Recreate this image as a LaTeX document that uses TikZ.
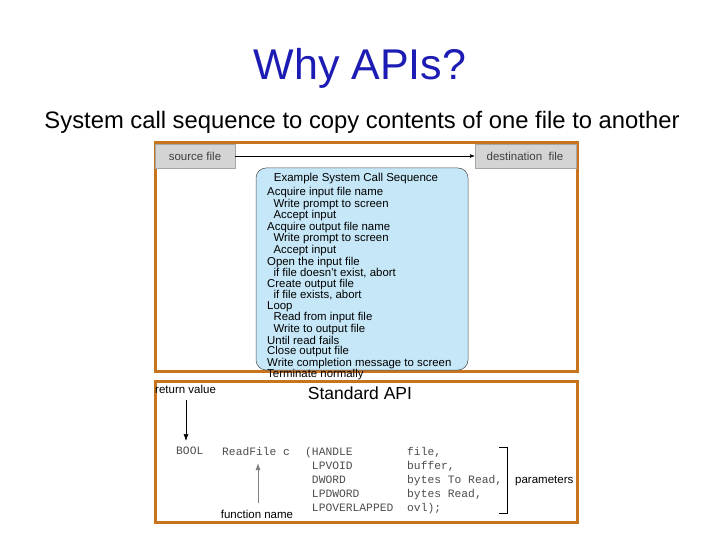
\documentclass[tikz,border=0pt]{standalone}
\usepackage{fontspec}
\setmainfont{Liberation Sans}
\setmonofont{Liberation Mono}
\usetikzlibrary{arrows.meta}
\definecolor{frame}{HTML}{C8741E}
\definecolor{tblue}{HTML}{1C1CB4}
\definecolor{lblue}{HTML}{C6E7F7}
\definecolor{gbox}{HTML}{D4D4D4}
\tikzset{
 frm/.style={draw=frame,line width=3pt},
 gb/.style={fill=gbox,draw=gray!70,line width=0.4pt},
 seq/.style={font=\fontsize{11.4}{10.4}\selectfont,anchor=north west,align=left,inner sep=0},
 lbl/.style={font=\fontsize{11.5}{12}\selectfont,text=black!75},
 code/.style={font=\ttfamily\fontsize{11.3}{14}\selectfont,text=black!70,anchor=north west,align=left,inner sep=0},
}
\begin{document}
\begin{tikzpicture}[x=1pt,y=-1pt]
\useasboundingbox (0,0) rectangle (720,540);
\node (title) at (360,68) {\fontsize{43}{46}\selectfont\color{tblue}Why APIs?};
\node (sub) at (362,122) {\fontsize{23.8}{26}\selectfont System call sequence to copy contents of one file to another};
% top frame
\draw[frm] (155,143) rectangle (577,371);
\draw[gb] (155.5,144.5) rectangle (235,168);
\node[lbl] (src) at (195,156) {source file};
\draw[gb] (475,144.5) rectangle (576.5,168);
\node[lbl] (dst) at (525,156) {destination\ \ file};
\draw[-{Latex[length=5pt]},line width=0.6pt] (235,156) -- (475,156);
\draw[fill=lblue,draw=black!70,line width=0.5pt,rounded corners=10pt] (256,168) rectangle (468,370);
\node[font=\fontsize{11.5}{12}\selectfont] (st) at (356,179) {Example System Call Sequence};
\node[seq] (list) at (267,187) {Acquire input file name\\
\ \ Write prompt to screen\\
\ \ Accept input\\
Acquire output file name\\
\ \ Write prompt to screen\\
\ \ Accept input\\
Open the input file\\
\ \ if file doesn't exist, abort\\
Create output file\\
\ \ if file exists, abort\\
Loop\\
\ \ Read from input file\\
\ \ Write to output file\\
Until read fails\\
Close output file\\
Write completion message to screen\\
Terminate normally};
% bottom frame
\draw[frm] (155,381) rectangle (577,522);
\node (std) at (360,393) {\fontsize{17.5}{19}\selectfont Standard API};
\node[lbl,text=black,anchor=west,inner sep=0] (rv) at (155,389) {return value};
\coordinate (rvt) at (186,400);
\coordinate (rvb) at (186,441);
\draw[-{Latex[length=7pt,width=5pt]},line width=0.6pt] (rvt) -- (rvb);
\node[code] (bool) at (176,447) {BOOL};
\node[code] (rf) at (222,447) {ReadFile c};
\node[code] (types) at (305,447) {(HANDLE\\\ LPVOID\\\ DWORD\\\ LPDWORD\\\ LPOVERLAPPED};
\node[code] (names) at (407,447) {file,\\buffer,\\bytes To Read,\\bytes Read,\\ovl);};
\draw[line width=0.8pt] (499,447) -- (507,447) -- (507,513) -- (499,513);
\node[lbl,text=black,anchor=west,inner sep=0] (par) at (515,481) {parameters};
\coordinate (fnb) at (258,503);
\coordinate (fnt) at (258,463);
\draw[-{Latex[length=7pt,width=5pt]},line width=0.8pt,draw=gray,fill=gray] (fnb) -- (fnt);
\node[lbl,text=black] (fn) at (257,514) {function name};
\end{tikzpicture}
\end{document}
